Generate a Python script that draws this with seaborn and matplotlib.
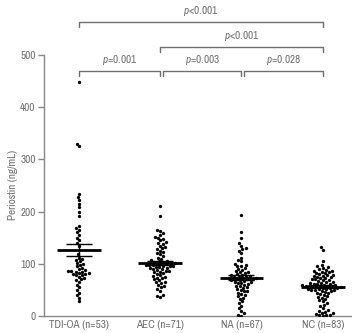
import numpy as np
import pandas as pd
import matplotlib
matplotlib.use("Agg")
import matplotlib.pyplot as plt
from matplotlib import font_manager as fm
import seaborn as sns

groups = ["TDI-OA (n=53)", "AEC (n=71)", "NA (n=67)", "NC (n=83)"]

tdi_oa = [448, 330, 325, 234, 228, 222, 215, 208, 200, 192, 172, 168, 165, 160, 155, 150,
          145, 140, 135, 118, 112, 110, 108, 105, 102, 100, 98, 95, 92, 90, 88, 86, 85, 82,
          80, 78, 86, 85, 82, 80, 78, 75, 72, 70, 68, 65, 60, 55, 50, 45, 40, 35, 28]
aec = [210, 192, 165, 162, 158, 155, 152, 150, 148, 145, 142, 140, 138, 135, 132, 130, 128,
       125, 122, 120, 118, 115, 112, 110, 108, 106, 105, 104, 103, 102, 101, 100, 100, 99,
       98, 98, 97, 96, 95, 95, 94, 93, 92, 91, 90, 90, 88, 87, 86, 85, 84, 82, 80, 78, 76,
       75, 73, 72, 70, 68, 66, 65, 63, 60, 58, 55, 52, 48, 40, 38, 36]
na = [193, 160, 150, 140, 135, 130, 128, 125, 120, 112, 108, 105, 100, 98, 96, 95, 92, 90,
      88, 86, 85, 84, 82, 80, 79, 78, 77, 76, 75, 74, 73, 72, 72, 71, 70, 70, 69, 68, 67, 66,
      65, 64, 63, 62, 60, 58, 57, 55, 54, 52, 50, 48, 47, 45, 42, 40, 38, 35, 32, 28, 25, 20,
      15, 10, 5, 2, 0]
nc = [132, 127, 105, 98, 95, 93, 92, 90, 88, 87, 86, 85, 84, 83, 82, 80, 79, 78, 77, 76,
      75, 74, 73, 72, 71, 70, 69, 68, 67, 66, 65, 64, 63, 62, 62, 61, 60, 60, 59, 58,
      58, 57, 57, 56, 56, 55, 55, 54, 54, 53, 52, 52, 51, 50, 50, 49, 48, 47, 46, 45,
      44, 42, 40, 38, 36, 35, 33, 30, 28, 25, 22, 20, 16, 12, 10, 8, 6, 5, 3, 2, 2, 1, 0]

comparisons = [(0, 1, "=0.001"), (1, 2, "=0.003"), (2, 3, "=0.028"), (1, 3, "<0.001"), (0, 3, "<0.001")]
bracket_levels = [469, 469, 469, 515, 563]
y_ticks = [0, 100, 200, 300, 400, 500]

sns.set_style("white")

# pick a condensed / narrow font if one is installed
family, stretch = "DejaVu Sans", "normal"
ttfs = fm.fontManager.ttflist
narrow = [f for f in ttfs if "Narrow" in f.name or "Condensed" in f.name]
cond = [f for f in ttfs if str(f.stretch) in ("condensed", "semi-condensed", "extra-condensed")]
if any(f.name == "Liberation Sans Narrow" for f in ttfs):
    family = "Liberation Sans Narrow"
elif narrow:
    family = narrow[0].name
elif cond:
    family, stretch = cond[0].name, "condensed"
plt.rcParams["font.family"] = [family, "DejaVu Sans"]
plt.rcParams["font.stretch"] = stretch
plt.rcParams["mathtext.fontset"] = "custom"
plt.rcParams["mathtext.rm"] = family
plt.rcParams["mathtext.it"] = family + ":italic"

gray = "#6e6e6e"
fs = 8
df = pd.DataFrame({
    "group": np.repeat(groups, [len(tdi_oa), len(aec), len(na), len(nc)]),
    "value": tdi_oa + aec + na + nc,
})

fig = plt.figure(figsize=(3.52, 3.33), dpi=100)
ax = fig.add_axes([0.125, 0.051, 0.875, 0.949])

sns.swarmplot(data=df, x="group", y="value", order=groups, color="black", size=2.4,
              linewidth=0, ax=ax)

stats = df.groupby("group", sort=False)["value"].agg(["mean", "std", "count"]).reindex(groups)
stats["sem"] = stats["std"] / np.sqrt(stats["count"])
for i, g in enumerate(groups):
    m = stats.loc[g, "mean"]
    s = stats.loc[g, "sem"]
    ax.hlines(m, i - 0.27, i + 0.27, color="black", lw=2.0, zorder=5)
    ax.vlines(i, m - s, m + s, color="black", lw=1.0, zorder=5)
    ax.hlines([m - s, m + s], i - 0.16, i + 0.16, color="black", lw=1.0, zorder=5)

for (a, b, txt), lvl in zip(comparisons, bracket_levels):
    x0 = a + (0.03 if a > 0 and lvl < 500 else 0)
    x1 = b
    ax.plot([x0, x0, x1, x1], [lvl - 9, lvl, lvl, lvl - 9], color=gray, lw=1.0, clip_on=False)
    ax.text((x0 + x1) / 2, lvl + 7, "$\\it{p}$" + txt, ha="center", va="bottom",
            fontsize=fs, color=gray)

ax.set_ylim(0, 605)
ax.set_xlim(-0.43, 3.36)
ax.set_yticks(y_ticks)
ax.set_yticklabels([str(t) for t in y_ticks])
ax.spines["top"].set_visible(False)
ax.spines["right"].set_visible(False)
ax.spines["left"].set_bounds(0, 500)
for sp in ("left", "bottom"):
    ax.spines[sp].set_color("#888888")
    ax.spines[sp].set_linewidth(1.0)
ax.tick_params(axis="y", length=4, width=1, color="#888888", labelsize=fs, labelcolor=gray, pad=2, left=True)
ax.tick_params(axis="x", length=0, labelsize=fs, labelcolor=gray, pad=3)
ax.set_xlabel("")
ax.set_ylabel("Periostin (ng/mL)", fontsize=fs, color=gray)
ax.yaxis.set_label_coords(-0.085, 0.415)

fig.savefig("out.png", dpi=100)
